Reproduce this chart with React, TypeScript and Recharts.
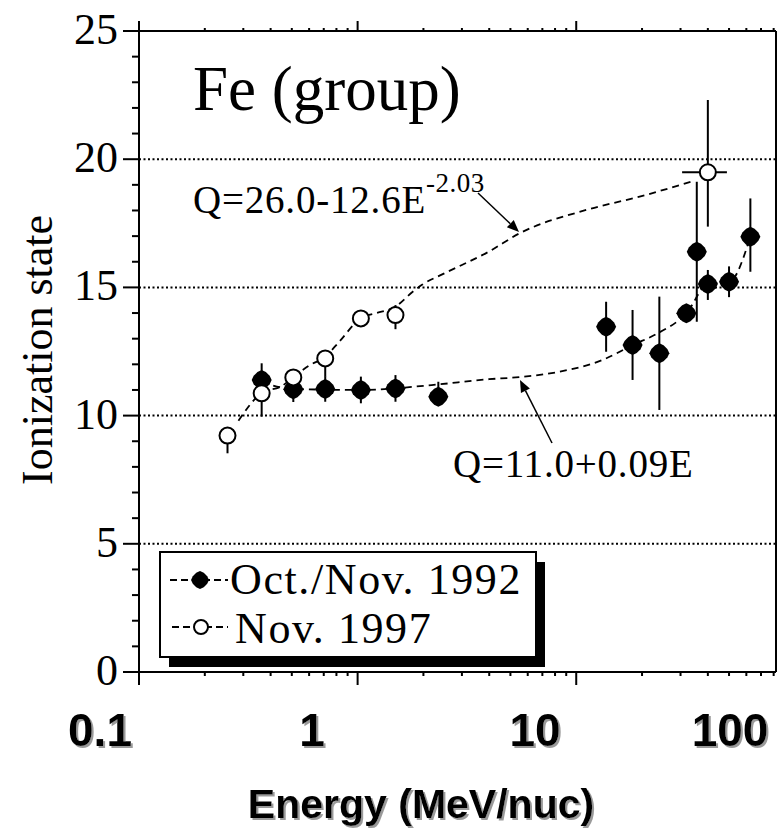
import React from 'react';
import {
  ComposedChart, Line, Scatter, XAxis, YAxis, ErrorBar, ReferenceLine,
} from 'recharts';

// axis ticks
const X_TICKS = [0.1, 0.2, 0.3, 0.4, 0.5, 0.6, 0.7, 0.8, 0.9, 1, 2, 3, 4, 5, 6, 7, 8, 9, 10, 20, 30, 40, 50, 60, 70, 80];
const X_MAJOR = [0.1, 1, 10];
const Y_TICKS = [0, 1, 2, 3, 4, 5, 6, 7, 8, 9, 10, 11, 12, 13, 14, 15, 16, 17, 18, 19, 20, 21, 22, 23, 24, 25];
const GRID_Q = [5, 10, 15, 20];
const X_LABELS = ['0.1', '1', '10', '100'];

// Oct./Nov. 1992 (filled)
const E_1992 = [0.364, 0.508, 0.711, 1.035, 1.49, 2.34, 13.7, 18.1, 24.0, 31.9, 35.6, 40.0, 50.0, 62.6];
const Q_1992 = [11.39, 11.03, 11.04, 11.0, 11.06, 10.74, 13.47, 12.75, 12.43, 13.99, 16.39, 15.13, 15.22, 16.98];
const DQ_LO_1992 = [0.4, 0.5, 0.5, 0.52, 0.52, 0.3, 0.98, 1.36, 2.21, 0.3, 2.73, 0.62, 0.6, 1.37];
const DQ_HI_1992 = [0.65, 0.5, 0.5, 0.52, 0.52, 0.58, 0.97, 1.37, 2.21, 0.3, 2.73, 0.55, 0.6, 1.49];

// Nov. 1997 (open)
const E_1997 = [0.254, 0.364, 0.508, 0.711, 1.035, 1.49, 40.0];
const Q_1997 = [9.22, 10.87, 11.49, 12.23, 13.79, 13.92, 19.49];
const DQ_LO_1997 = [0.69, 0.91, 0.3, 0.7, 0.2, 0.55, 2.12];
const DQ_HI_1997 = [0.2, 0.3, 0.3, 0.3, 0.2, 0.39, 2.82];
const DE_LO_1997 = [0, 0, 0, 0, 0, 0, 9.5];
const DE_HI_1997 = [0, 0, 0, 0, 0, 0, 8.9];

// dashed fit curves
const FIT97_E = [0.285, 0.364, 0.45, 0.508, 0.6, 0.711, 0.818, 1.035, 1.22, 1.49, 1.77, 1.97, 2.5, 3.99, 5.48, 11.1, 19.5, 33.5];
const FIT97_Q = [9.8, 10.88, 11.15, 11.5, 11.95, 12.3, 12.85, 13.8, 14.0, 14.25, 14.8, 15.1, 15.55, 16.4, 17.1, 18.02, 18.54, 19.12];
const FIT92_E = [0.364, 0.508, 1.03, 2.18, 3.99, 5.29, 8.36, 13.2, 18.1, 23.6, 31.9, 40, 50, 62.6];
const FIT92_Q = [11.3, 11.04, 11.0, 11.19, 11.42, 11.49, 11.71, 12.17, 12.75, 13.21, 13.99, 15.13, 15.2, 16.98];

const data92 = E_1992.map((e, i) => ({ e, q: Q_1992[i], qe: [DQ_LO_1992[i], DQ_HI_1992[i]] }));
const data97 = E_1997.map((e, i) => ({
  e, q: Q_1997[i], qe: [DQ_LO_1997[i], DQ_HI_1997[i]], ee: [DE_LO_1997[i], DE_HI_1997[i]],
}));
const fit97 = FIT97_E.map((e, i) => ({ e, q: FIT97_Q[i] }));
const fit92 = FIT92_E.map((e, i) => ({ e, q: FIT92_Q[i] }));

const SERIF = '"Liberation Serif", "Times New Roman", serif';
const SANS = '"Liberation Sans", Arial, sans-serif';

function diamondPath(cx: number, cy: number, r: number) {
  const k = [
    [0, -1], [0.42, -0.8], [0.8, -0.42], [1, 0], [0.8, 0.42], [0.42, 0.8],
    [0, 1], [-0.42, 0.8], [-0.8, 0.42], [-1, 0], [-0.8, -0.42], [-0.42, -0.8],
  ];
  return k.map(([a, b], i) => `${i ? 'L' : 'M'}${cx + a * r},${cy + b * r}`).join('') + 'Z';
}

function FilledMark({ cx, cy }: any) {
  if (cx == null || cy == null) return null;
  return <path d={diamondPath(cx, cy, 10)} fill="#000" />;
}

function OpenMark({ cx, cy }: any) {
  if (cx == null || cy == null) return null;
  return <circle cx={cx} cy={cy} r={8} fill="#fff" stroke="#000" strokeWidth={2} />;
}

function BottomTick({ x, y, payload }: any) {
  const major = X_MAJOR.includes(payload.value);
  return <line x1={x} x2={x} y1={y} y2={y + (major ? 13 : 4)} stroke="#000" strokeWidth={2} />;
}

function TopTick({ x, y, payload }: any) {
  const major = X_MAJOR.includes(payload.value);
  return <line x1={x} x2={x} y1={y} y2={y - (major ? 10 : 3)} stroke="#000" strokeWidth={2} />;
}

function LeftTick({ x, y, payload }: any) {
  const v = payload.value;
  const major = v % 5 === 0;
  return (
    <g>
      <line x1={x - (major ? 16 : 7)} x2={x} y1={y} y2={y} stroke="#000" strokeWidth={2} />
      {major && (
        <text x={x - 21} y={y + 13} textAnchor="end" fontFamily={SERIF} fontSize={44} fill="#000">
          {v}
        </text>
      )}
    </g>
  );
}

function Arrow({ x1, y1, x2, y2 }: { x1: number; y1: number; x2: number; y2: number }) {
  const a = Math.atan2(y2 - y1, x2 - x1);
  const L = 12, W = 5;
  const bx = x2 - L * Math.cos(a), by = y2 - L * Math.sin(a);
  const p1 = `${bx + W * Math.sin(a)},${by - W * Math.cos(a)}`;
  const p2 = `${bx - W * Math.sin(a)},${by + W * Math.cos(a)}`;
  return (
    <g>
      <line x1={x1} y1={y1} x2={bx} y2={by} stroke="#000" strokeWidth={1.5} />
      <polygon points={`${x2},${y2} ${p1} ${p2}`} fill="#000" />
    </g>
  );
}

function ShadowText({ x, y, children, size }: any) {
  return (
    <text
      x={x} y={y} fontFamily={SANS} fontWeight="bold" fontSize={size} textAnchor="middle"
      fill="#000" filter="url(#lblShadow)"
    >
      {children}
    </text>
  );
}

function Overlay() {
  const labelX = [100, 312, 535, 730];
  return (
    <svg width={778} height={829} style={{ position: 'absolute', left: 0, top: 0, pointerEvents: 'none' }}>
      <defs>
        <filter id="lblShadow" x="-10%" y="-10%" width="130%" height="140%">
          <feDropShadow dx={2} dy={2} stdDeviation={0.6} floodColor="#9a9a9a" floodOpacity={1} />
        </filter>
      </defs>

      <text x={193} y={110} fontFamily={SERIF} fontSize={63}>Fe (group)</text>

      <text x={193} y={213} fontFamily={SERIF} fontSize={39} letterSpacing={0.8}>
        Q=26.0-12.6E<tspan dy={-21} fontSize={27} letterSpacing={0.5}>-2.03</tspan>
      </text>
      <Arrow x1={478} y1={193} x2={519} y2={232} />

      <text x={453} y={477} fontFamily={SERIF} fontSize={39} letterSpacing={0.8}>Q=11.0+0.09E</text>
      <Arrow x1={552} y1={443} x2={520} y2={380} />

      <text transform="translate(52,350) rotate(-90)" textAnchor="middle" fontFamily={SERIF} fontSize={44}>
        Ionization state
      </text>

      {X_LABELS.map((t, i) => (
        <ShadowText key={t} x={labelX[i]} y={746} size={46}>{t}</ShadowText>
      ))}
      <ShadowText x={421} y={818} size={41}>Energy (MeV/nuc)</ShadowText>

      {/* legend */}
      <rect x={169} y={562} width={376} height={105} fill="#000" />
      <rect x={160} y={552} width={376} height={105} fill="#fff" stroke="#000" strokeWidth={2} />
      <line x1={170} x2={228} y1={580} y2={580} stroke="#000" strokeWidth={2} strokeDasharray="7 4" />
      <path d={diamondPath(200, 580, 9)} fill="#000" />
      <text x={230} y={594} fontFamily={SERIF} fontSize={44} letterSpacing={1.6}>Oct./Nov. 1992</text>
      <line x1={172} x2={228} y1={627} y2={627} stroke="#000" strokeWidth={2} strokeDasharray="7 4" />
      <circle cx={201} cy={627} r={7} fill="#fff" stroke="#000" strokeWidth={2} />
      <text x={235} y={643} fontFamily={SERIF} fontSize={44} letterSpacing={1.6}>Nov. 1997</text>
    </svg>
  );
}

export default function App() {
  return (
    <div style={{ position: 'absolute', left: 0, top: 0, width: 778, height: 829, background: '#fff' }}>
      <ComposedChart width={778} height={829} margin={{ top: 1, right: 0, bottom: 0, left: 0 }}>
        <XAxis
          xAxisId="b" dataKey="e" type="number" scale="log" domain={[0.1, 82]} allowDataOverflow
          ticks={X_TICKS} tick={<BottomTick />} tickLine={false} tickSize={0} tickMargin={0}
          height={157} axisLine={{ stroke: '#000', strokeWidth: 2 }} interval={0}
        />
        <XAxis
          xAxisId="t" orientation="top" dataKey="e" type="number" scale="log" domain={[0.1, 82]} allowDataOverflow
          ticks={X_TICKS} tick={<TopTick />} tickLine={false} tickSize={0} tickMargin={0}
          height={30} axisLine={{ stroke: '#000', strokeWidth: 2 }} interval={0}
        />
        <YAxis
          yAxisId="l" dataKey="q" type="number" domain={[0, 25]} ticks={Y_TICKS} interval={0}
          tick={<LeftTick />} tickLine={false} tickSize={0} tickMargin={0} width={139}
          axisLine={{ stroke: '#000', strokeWidth: 2 }}
        />
        <YAxis
          yAxisId="r" orientation="right" type="number" domain={[0, 25]} tick={false} tickLine={false}
          width={2} axisLine={{ stroke: '#000', strokeWidth: 2 }}
        />
        {GRID_Q.map((v) => (
          <ReferenceLine key={v} xAxisId="b" yAxisId="l" y={v} stroke="#000" strokeWidth={2} strokeDasharray="2 2.5" />
        ))}
        <Line
          xAxisId="b" yAxisId="l" data={fit97} dataKey="q" type="monotone" stroke="#000" strokeWidth={1.8}
          strokeDasharray="7 5" dot={false} activeDot={false} isAnimationActive={false}
        />
        <Line
          xAxisId="b" yAxisId="l" data={fit92} dataKey="q" type="monotone" stroke="#000" strokeWidth={1.8}
          strokeDasharray="7 5" dot={false} activeDot={false} isAnimationActive={false}
        />
        <Scatter
          xAxisId="b" yAxisId="l" data={data92} dataKey="q" shape={<FilledMark />} isAnimationActive={false}
        >
          <ErrorBar dataKey="qe" direction="y" width={0} stroke="#000" strokeWidth={2} isAnimationActive={false} />
        </Scatter>
        <Scatter
          xAxisId="b" yAxisId="l" data={data97} dataKey="q" shape={<OpenMark />} isAnimationActive={false}
        >
          <ErrorBar dataKey="qe" direction="y" width={0} stroke="#000" strokeWidth={2} isAnimationActive={false} />
          <ErrorBar dataKey="ee" direction="x" width={0} stroke="#000" strokeWidth={2} isAnimationActive={false} />
        </Scatter>
      </ComposedChart>
      <Overlay />
    </div>
  );
}
